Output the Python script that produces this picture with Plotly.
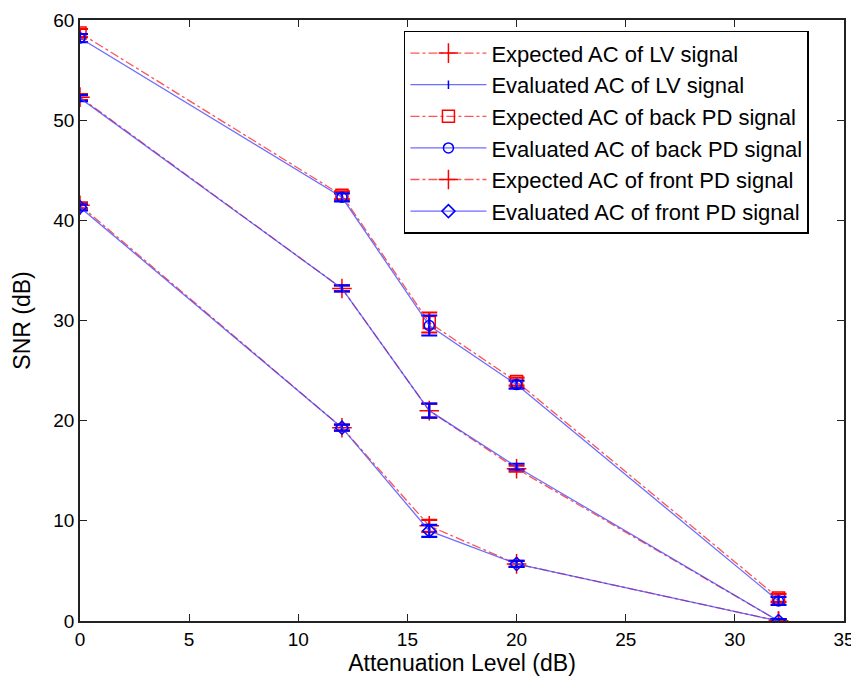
import plotly.graph_objects as go

x_levels = [0, 12, 16, 20, 32]

lv_expected = [52.3, 33.2, 21.0, 15.2, 0.0]
lv_evaluated = [52.2, 33.2, 21.0, 15.4, 0.0]
lv_err = [0.3, 0.3, 0.7, 0.3, 0.2]

back_expected = [58.7, 42.5, 29.8, 23.9, 2.3]
back_evaluated = [58.2, 42.3, 29.5, 23.6, 2.0]
back_err = [0.4, 0.4, 1.0, 0.4, 0.4]

front_expected = [41.5, 19.3, 9.5, 5.7, 0.0]
front_evaluated = [41.3, 19.3, 9.0, 5.7, 0.0]
front_err = [0.3, 0.3, 0.6, 0.3, 0.2]

names = [
    "Expected AC of LV signal",
    "Evaluated AC of LV signal",
    "Expected AC of back PD signal",
    "Evaluated AC of back PD signal",
    "Expected AC of front PD signal",
    "Evaluated AC of front PD signal",
]

RED = "rgb(255,0,0)"
BLUE = "rgb(0,0,255)"
LBLUE = "rgba(60,60,255,0.75)"
LRED = "rgba(255,40,40,0.8)"

series = [
    (lv_expected, lv_err, RED, "dashdot", "cross-thin", 14),
    (lv_evaluated, lv_err, BLUE, "solid", "line-ns", 6),
    (back_expected, back_err, RED, "dashdot", "square-open", 12),
    (back_evaluated, back_err, BLUE, "solid", "circle-open", 10),
    (front_expected, front_err, RED, "dashdot", "cross-thin", 14),
    (front_evaluated, front_err, BLUE, "solid", "diamond-open", 10),
]

fig = go.Figure()
for i, (vals, err, col, dash, sym, sz) in enumerate(series):
    lc = LRED if col == RED else LBLUE
    fig.add_trace(go.Scatter(
        x=x_levels, y=vals, name=names[i], mode="lines+markers",
        legendgroup=f"g{i}",
        line=dict(color=lc, width=1.3, dash=dash),
        marker=dict(symbol=sym, size=sz, color=col,
                    line=dict(color=col, width=1.5)),
        error_y=dict(type="data", array=err, visible=True, color=col,
                     thickness=2.2, width=8),
    ))

fig.update_layout(
    width=851, height=676,
    margin=dict(l=72, r=15, t=12, b=63),
    paper_bgcolor="white", plot_bgcolor="white",
    font=dict(family="Liberation Sans, Arial, sans-serif", size=19, color="black"),
    legend=dict(x=0.424, y=0.982, xanchor="left", yanchor="top",
                bgcolor="white", bordercolor="black", borderwidth=1.5,
                font=dict(size=22), tracegroupgap=0, itemwidth=76,
                traceorder="grouped"),
    showlegend=True,
)
fig.update_xaxes(range=[0, 35], dtick=5, showgrid=False, zeroline=False,
                 showline=True, linecolor="#222", linewidth=1.5, mirror="ticks",
                 ticks="inside", ticklen=7, tickcolor="#222", automargin=False,
                 title=dict(text="Attenuation Level (dB)", standoff=4))
fig.update_yaxes(range=[0, 60], dtick=10, showgrid=False, zeroline=False,
                 showline=True, linecolor="#222", linewidth=1.5, mirror="ticks",
                 ticks="inside", ticklen=7, tickcolor="#222", automargin=False,
                 title=dict(text="SNR (dB)", standoff=16))

fig.write_html("out.html")
